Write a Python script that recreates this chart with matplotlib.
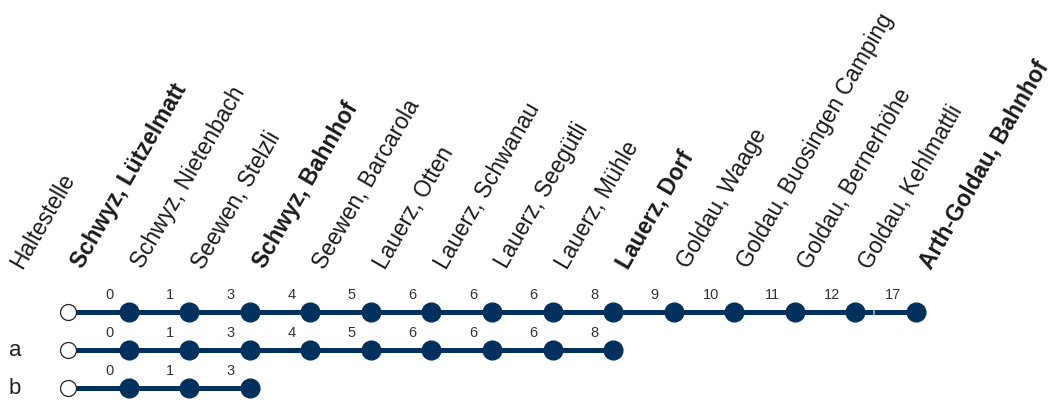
import matplotlib
matplotlib.use("Agg")
import matplotlib.pyplot as plt

# --- data ---
stations = ["Haltestelle", "Schwyz, Lützelmatt", "Schwyz, Nietenbach", "Seewen, Stelzli",
            "Schwyz, Bahnhof", "Seewen, Barcarola", "Lauerz, Otten", "Lauerz, Schwanau",
            "Lauerz, Seegütli", "Lauerz, Mühle", "Lauerz, Dorf", "Goldau, Waage",
            "Goldau, Buosingen Camping", "Goldau, Bernerhöhe", "Goldau, Kehlmattli",
            "Arth-Goldau, Bahnhof"]
bold_stations = ["Schwyz, Lützelmatt", "Schwyz, Bahnhof", "Lauerz, Dorf", "Arth-Goldau, Bahnhof"]

row_names = ["", "a", "b"]
minutes_main = [0, 1, 3, 4, 5, 6, 6, 6, 8, 9, 10, 11, 12, 17]
minutes_a = [0, 1, 3, 4, 5, 6, 6, 6, 8]
minutes_b = [0, 1, 3]
rows = [minutes_main, minutes_a, minutes_b]
break_before = 14   # gap in the line before this stop (main row)

NAVY = "#00305e"
W, H = 1053, 403
x0, dx = 68, 60.57      # pixel position of start circle, stop spacing
y0, dy = 312, 38        # pixel position of first row, row spacing

plt.rcParams["font.family"] = ["Liberation Sans", "DejaVu Sans"]

fig = plt.figure(figsize=(W / 100, H / 100), dpi=100)
ax = fig.add_axes([0, 0, 1, 1])
ax.set_xlim(-x0 / dx, (W - x0) / dx)
ax.set_ylim((H - y0) / dy, -y0 / dy)
ax.axis("off")

# station headers (first one is the column title, over the start circle)
for i, name in enumerate(stations):
    ax.annotate(name, (i, 0), xytext=(-46, 42), textcoords="offset pixels",
                rotation=60, rotation_mode="anchor", ha="left", va="baseline",
                fontsize=16.3, color="#1a1a1a",
                fontweight="bold" if name in bold_stations else "normal")

for r, mins in enumerate(rows):
    n = len(mins)
    xs = list(range(n + 1))
    # line segments between stops
    for k in range(n):
        start = k
        if r == 0 and k + 1 == break_before:
            start = k + 0.3
            ax.plot([k, start - 0.015], [r, r], color=NAVY, lw=3.6, solid_capstyle="butt", zorder=1)
        ax.plot([start, k + 1], [r, r], color=NAVY, lw=3.6, solid_capstyle="butt", zorder=1)
    ax.plot(xs[1:], [r] * n, "o", color=NAVY, ms=13.5, mec=NAVY, zorder=3)
    ax.plot([0], [r], "o", color="white", ms=11.5, mec="#222222", mew=0.9, zorder=3)
    for k, m in enumerate(mins):
        ax.annotate(str(m), (k + 1, r), xytext=(-15, 17), textcoords="offset pixels",
                    ha="right", va="center", fontsize=10.5, color="#333333")
    if row_names[r]:
        ax.annotate(row_names[r], (0, r), xytext=(-53, 0), textcoords="offset pixels",
                    ha="center", va="center", fontsize=16, color="#222222")

fig.savefig("out.png", dpi=100)
